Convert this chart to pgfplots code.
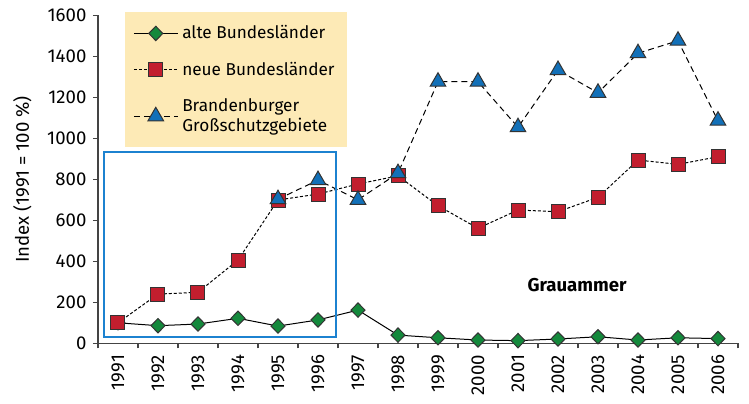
\documentclass[border=0pt]{standalone}
\usepackage{pgfplots}
\pgfplotsset{compat=1.18}
\usepackage{fontspec}
\setmainfont{Fira Sans}
\definecolor{cgreen}{HTML}{14893C}
\definecolor{cred}{HTML}{C21E2E}
\definecolor{cblue}{HTML}{1270B8}
\definecolor{cbox}{HTML}{1C82D0}
\definecolor{clegend}{HTML}{FDEAB6}
\definecolor{caxis}{HTML}{444444}
\begin{document}
\fontsize{9.3}{11}\selectfont
\begin{tikzpicture}
\begin{axis}[
  scale only axis, width=320pt, height=164pt,
  xmin=-0.5, xmax=15.5, ymin=0, ymax=1600,
  axis x line*=bottom, axis y line*=left,
  axis line style={caxis, line width=0.75pt, -},
  xtick={0,...,15},
  xticklabels={1991,1992,1993,1994,1995,1996,1997,1998,1999,2000,2001,2002,2003,2004,2005,2006},
  x tick label style={rotate=90, anchor=east},
  major x tick style={draw=none},
  minor xtick={-0.5,0.5,...,15.5},
  minor tick length=2.5pt,
  minor x tick style={caxis, line width=0.75pt},
  ytick={0,200,...,1600},
  y tick style={caxis, line width=0.75pt},
  major tick length=2.5pt,
  tick align=outside,
  /pgf/number format/assume math mode=true,
  /pgf/number format/1000 sep={},
  tick label style={font=\fontsize{9.3}{11}\selectfont},
  ylabel={Index (1991 = 100 \%)},
  ylabel style={at={(axis description cs:-0.118,0.5)}, anchor=center, font=\fontsize{9.3}{11}\selectfont},
  legend style={at={(axis description cs:0.042,1.01)}, anchor=north west, fill=clegend, draw=none,
    font=\fontsize{8.6}{10.2}\selectfont, cells={align=left, anchor=west}, inner xsep=4pt, inner ysep=4.5pt,
    row sep=6.2pt},
  legend cell align=left,
  legend image code/.code={\draw[mark repeat=2,mark phase=2] plot coordinates {(0pt,0pt)(11pt,0pt)(22pt,0pt)};},
  clip=false,
]
\addplot[black, line width=0.5pt, mark=diamond*, mark size=3.6pt, mark options={solid, fill=cgreen, draw=black!80, line width=0.5pt, xscale=1.3}]
coordinates {(0,100)(1,86)(2,94)(3,122)(4,84)(5,114)(6,162)(7,40)(8,27)(9,16)(10,13)(11,21)(12,32)(13,16)(14,27)(15,23)};
\addlegendentry{alte Bundesländer}
\addplot[black, line width=0.5pt, dash pattern=on 1.5pt off 1pt, mark=square*, mark size=3.5pt, mark options={solid, fill=cred, draw=black!80, line width=0.5pt}]
coordinates {(0,100)(1,240)(2,249)(3,406)(4,699)(5,728)(6,777)(7,817)(8,671)(9,561)(10,650)(11,642)(12,712)(13,894)(14,873)(15,910)};
\addlegendentry{neue Bundesländer}
\addplot[black, line width=0.5pt, dash pattern=on 3pt off 2pt, mark=triangle*, mark size=4.5pt, mark options={solid, fill=cblue, draw=black!80, line width=0.5pt}]
coordinates {(4,703)(5,796)(6,700)(7,830)(8,1276)(9,1276)(10,1054)(11,1333)(12,1222)(13,1415)(14,1476)(15,1086)};
\addlegendentry{Brandenburger\\Großschutzgebiete}
\draw[cbox, line width=0.9pt] (axis cs:-0.35,31) rectangle (axis cs:5.45,933);
\node[font=\fontsize{9.3}{11}\selectfont\bfseries] at (axis cs:11.475,284) {Grauammer};
\end{axis}
\pgfresetboundingbox
\path (-49pt,-29.85pt) rectangle (325.5pt,171.65pt);
\end{tikzpicture}
\end{document}
